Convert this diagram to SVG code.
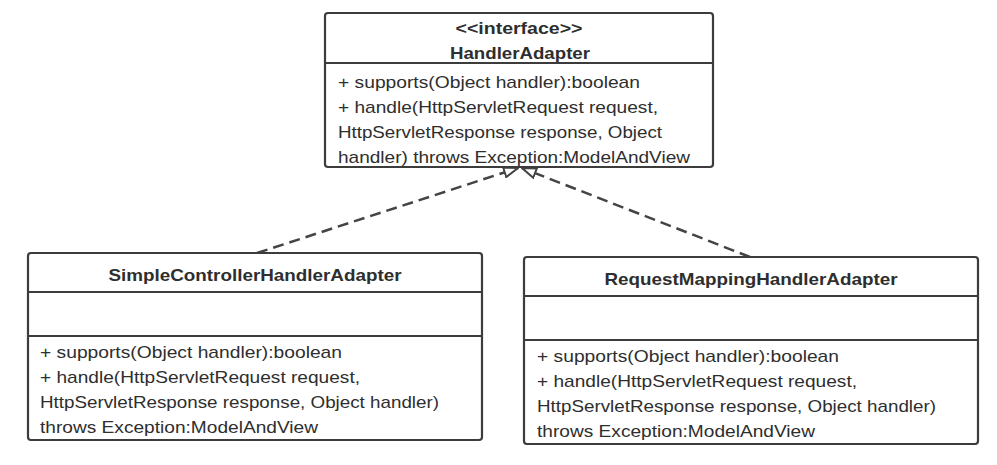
<svg xmlns="http://www.w3.org/2000/svg" width="997" height="465" viewBox="0 0 997 465">
  <style>
    .box { fill: #ffffff; stroke: #3c3c3c; stroke-width: 2.2; }
    .div { stroke: #3c3c3c; stroke-width: 2.2; }
    .t { font-family: "Liberation Sans", Arial, sans-serif; font-size: 17px; fill: #2e2e2e; }
    .b { font-weight: bold; text-anchor: middle; }
    .conn { fill: none; stroke: #444444; stroke-width: 2.5; stroke-dasharray: 11 6; }
  </style>
  <defs>
    <marker id="tri" viewBox="0 0 16 12" refX="15" refY="6" markerWidth="16" markerHeight="12" markerUnits="userSpaceOnUse" orient="auto">
      <path d="M1,1 L15,6 L1,11 Z" fill="#ffffff" stroke="#444444" stroke-width="2"/>
    </marker>
  </defs>
  <rect width="997" height="465" fill="#ffffff"/>

  <g id="connectors">
    <line class="conn" x1="257" y1="253" x2="518" y2="168" marker-end="url(#tri)"/>
    <line class="conn" x1="750" y1="257" x2="522" y2="168" marker-end="url(#tri)"/>
  </g>

  <g id="HandlerAdapter">
    <rect class="box" x="325" y="13" width="388" height="154" rx="3"/>
    <line class="div" x1="325" y1="63" x2="713" y2="63"/>
    <text class="t b" x="519" y="34" textLength="127" lengthAdjust="spacingAndGlyphs">&lt;&lt;interface&gt;&gt;</text>
    <text class="t b" x="520" y="59" textLength="140" lengthAdjust="spacingAndGlyphs">HandlerAdapter</text>
    <text class="t" x="338" y="88" textLength="302" lengthAdjust="spacingAndGlyphs">+ supports(Object handler):boolean</text>
    <text class="t" x="338" y="113" textLength="320" lengthAdjust="spacingAndGlyphs">+ handle(HttpServletRequest request,</text>
    <text class="t" x="338" y="138" textLength="324" lengthAdjust="spacingAndGlyphs">HttpServletResponse response, Object</text>
    <text class="t" x="338" y="163" textLength="352" lengthAdjust="spacingAndGlyphs">handler) throws Exception:ModelAndView</text>
  </g>

  <g id="SimpleControllerHandlerAdapter">
    <rect class="box" x="28" y="253" width="454" height="187" rx="3"/>
    <line class="div" x1="28" y1="292" x2="482" y2="292"/>
    <line class="div" x1="28" y1="336" x2="482" y2="336"/>
    <text class="t b" x="255" y="281" textLength="293" lengthAdjust="spacingAndGlyphs">SimpleControllerHandlerAdapter</text>
    <text class="t" x="40" y="358" textLength="302" lengthAdjust="spacingAndGlyphs">+ supports(Object handler):boolean</text>
    <text class="t" x="40" y="383" textLength="320" lengthAdjust="spacingAndGlyphs">+ handle(HttpServletRequest request,</text>
    <text class="t" x="40" y="408" textLength="399" lengthAdjust="spacingAndGlyphs">HttpServletResponse response, Object handler)</text>
    <text class="t" x="40" y="433" textLength="278" lengthAdjust="spacingAndGlyphs">throws Exception:ModelAndView</text>
  </g>

  <g id="RequestMappingHandlerAdapter">
    <rect class="box" x="524" y="257" width="454" height="187" rx="3"/>
    <line class="div" x1="524" y1="296" x2="978" y2="296"/>
    <line class="div" x1="524" y1="340" x2="978" y2="340"/>
    <text class="t b" x="751" y="285" textLength="293" lengthAdjust="spacingAndGlyphs">RequestMappingHandlerAdapter</text>
    <text class="t" x="537" y="362" textLength="302" lengthAdjust="spacingAndGlyphs">+ supports(Object handler):boolean</text>
    <text class="t" x="537" y="387" textLength="320" lengthAdjust="spacingAndGlyphs">+ handle(HttpServletRequest request,</text>
    <text class="t" x="537" y="412" textLength="399" lengthAdjust="spacingAndGlyphs">HttpServletResponse response, Object handler)</text>
    <text class="t" x="537" y="437" textLength="278" lengthAdjust="spacingAndGlyphs">throws Exception:ModelAndView</text>
  </g>
</svg>
